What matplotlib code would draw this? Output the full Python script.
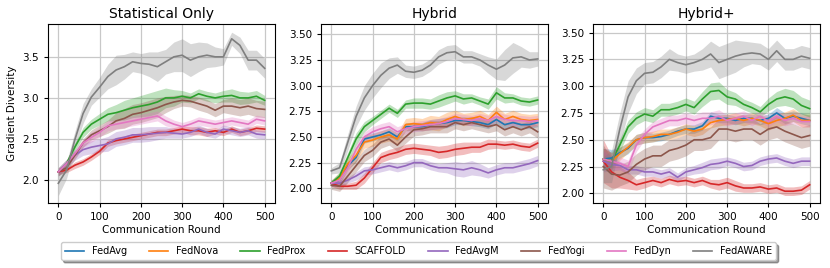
import numpy as np
import matplotlib
matplotlib.use("Agg")
import matplotlib.pyplot as plt

rounds = np.arange(0, 501, 20)

methods = ["FedAvg", "FedNova", "FedProx", "SCAFFOLD", "FedAvgM", "FedYogi", "FedDyn", "FedAWARE"]
colors  = ["tab:blue", "tab:orange", "tab:green", "tab:red", "tab:purple", "tab:brown", "tab:pink", "tab:gray"]
titles  = ["Statistical Only", "Hybrid", "Hybrid+"]

# ---- Statistical Only (FedAvg / FedNova not shown) ----
stat_fedprox   = [2.10, 2.20, 2.40, 2.58, 2.68, 2.74, 2.80, 2.82, 2.85, 2.88, 2.90, 2.92, 2.95, 3.00, 3.00, 3.02, 3.00, 3.05, 3.02, 3.00, 3.02, 3.03, 3.00, 3.00, 3.02, 2.97]
stat_scaffold  = [2.10, 2.12, 2.18, 2.22, 2.28, 2.35, 2.45, 2.48, 2.50, 2.52, 2.54, 2.56, 2.58, 2.58, 2.60, 2.62, 2.60, 2.60, 2.58, 2.60, 2.58, 2.62, 2.58, 2.60, 2.63, 2.62]
stat_fedavgm   = [2.10, 2.20, 2.30, 2.37, 2.40, 2.42, 2.44, 2.50, 2.52, 2.55, 2.55, 2.56, 2.57, 2.58, 2.57, 2.56, 2.58, 2.62, 2.58, 2.56, 2.62, 2.60, 2.58, 2.60, 2.56, 2.55]
stat_fedyogi   = [2.10, 2.15, 2.30, 2.45, 2.55, 2.60, 2.65, 2.72, 2.75, 2.80, 2.82, 2.85, 2.88, 2.92, 2.95, 2.97, 2.96, 2.93, 2.90, 2.85, 2.90, 2.90, 2.88, 2.90, 2.87, 2.86]
stat_feddyn    = [2.10, 2.20, 2.32, 2.45, 2.52, 2.58, 2.66, 2.68, 2.70, 2.72, 2.74, 2.76, 2.78, 2.72, 2.68, 2.65, 2.68, 2.72, 2.70, 2.68, 2.70, 2.72, 2.70, 2.68, 2.74, 2.72]
stat_fedaware  = [1.96, 2.12, 2.49, 2.81, 3.01, 3.13, 3.26, 3.34, 3.38, 3.44, 3.42, 3.41, 3.38, 3.44, 3.50, 3.52, 3.46, 3.50, 3.52, 3.50, 3.50, 3.72, 3.64, 3.46, 3.46, 3.36]

stat_fedprox_sd   = [0.05, 0.05, 0.05, 0.06, 0.06, 0.07, 0.08, 0.10, 0.12, 0.12, 0.13, 0.14, 0.14, 0.12, 0.10, 0.07, 0.06, 0.06, 0.06, 0.06, 0.07, 0.08, 0.08, 0.07, 0.07, 0.06]
stat_scaffold_sd  = [0.03, 0.03, 0.04, 0.04, 0.04, 0.04, 0.04, 0.04, 0.04, 0.04, 0.04, 0.04, 0.04, 0.04, 0.04, 0.04, 0.05, 0.05, 0.05, 0.04, 0.04, 0.04, 0.04, 0.04, 0.04, 0.04]
stat_fedavgm_sd   = [0.05, 0.05, 0.06, 0.07, 0.08, 0.08, 0.09, 0.09, 0.09, 0.09, 0.09, 0.09, 0.08, 0.07, 0.06, 0.05, 0.05, 0.05, 0.05, 0.05, 0.05, 0.05, 0.05, 0.05, 0.05, 0.05]
stat_fedyogi_sd   = [0.05, 0.05, 0.05, 0.05, 0.06, 0.07, 0.08, 0.10, 0.12, 0.12, 0.12, 0.12, 0.12, 0.10, 0.08, 0.07, 0.07, 0.08, 0.08, 0.08, 0.08, 0.10, 0.10, 0.10, 0.10, 0.10]
stat_feddyn_sd    = [0.05, 0.05, 0.05, 0.05, 0.06, 0.06, 0.06, 0.06, 0.06, 0.06, 0.06, 0.06, 0.06, 0.06, 0.05, 0.05, 0.05, 0.05, 0.05, 0.05, 0.05, 0.05, 0.05, 0.05, 0.05, 0.05]
stat_fedaware_sd  = [0.15, 0.10, 0.10, 0.12, 0.10, 0.12, 0.15, 0.18, 0.15, 0.12, 0.12, 0.15, 0.18, 0.15, 0.18, 0.20, 0.20, 0.18, 0.15, 0.12, 0.10, 0.08, 0.10, 0.12, 0.12, 0.12]

# ---- Hybrid ----
hyb_fedavg    = [2.05, 2.08, 2.22, 2.30, 2.48, 2.50, 2.52, 2.55, 2.50, 2.60, 2.60, 2.60, 2.62, 2.63, 2.64, 2.66, 2.66, 2.65, 2.64, 2.62, 2.67, 2.62, 2.64, 2.62, 2.62, 2.64]
hyb_fednova   = [2.05, 2.10, 2.24, 2.32, 2.45, 2.47, 2.50, 2.52, 2.48, 2.62, 2.63, 2.62, 2.64, 2.63, 2.67, 2.70, 2.67, 2.68, 2.70, 2.66, 2.74, 2.67, 2.70, 2.67, 2.66, 2.67]
hyb_fedprox   = [2.05, 2.12, 2.30, 2.48, 2.60, 2.66, 2.72, 2.78, 2.73, 2.82, 2.83, 2.83, 2.82, 2.85, 2.88, 2.90, 2.87, 2.88, 2.85, 2.82, 2.93, 2.88, 2.88, 2.85, 2.84, 2.86]
hyb_scaffold  = [2.05, 2.02, 2.02, 2.03, 2.10, 2.20, 2.30, 2.33, 2.35, 2.38, 2.39, 2.38, 2.37, 2.35, 2.36, 2.38, 2.39, 2.40, 2.40, 2.43, 2.43, 2.42, 2.43, 2.41, 2.40, 2.44]
hyb_fedavgm   = [2.05, 2.05, 2.08, 2.12, 2.17, 2.18, 2.20, 2.22, 2.20, 2.22, 2.25, 2.25, 2.22, 2.20, 2.20, 2.19, 2.18, 2.20, 2.18, 2.15, 2.18, 2.20, 2.20, 2.22, 2.24, 2.27]
hyb_fedyogi   = [2.03, 2.02, 2.12, 2.22, 2.32, 2.37, 2.45, 2.48, 2.42, 2.50, 2.57, 2.58, 2.60, 2.60, 2.60, 2.64, 2.62, 2.64, 2.62, 2.60, 2.62, 2.57, 2.60, 2.57, 2.60, 2.55]
hyb_feddyn    = [2.05, 2.08, 2.20, 2.38, 2.50, 2.55, 2.58, 2.60, 2.55, 2.58, 2.60, 2.61, 2.62, 2.63, 2.65, 2.68, 2.67, 2.66, 2.68, 2.66, 2.70, 2.67, 2.66, 2.66, 2.65, 2.66]
hyb_fedaware  = [2.17, 2.20, 2.45, 2.70, 2.88, 3.00, 3.10, 3.17, 3.20, 3.14, 3.13, 3.15, 3.20, 3.28, 3.32, 3.33, 3.28, 3.28, 3.25, 3.20, 3.16, 3.20, 3.27, 3.28, 3.25, 3.26]

hyb_fedavg_sd    = [0.03, 0.04, 0.04, 0.04, 0.04, 0.04, 0.04, 0.04, 0.04, 0.04, 0.04, 0.04, 0.05, 0.05, 0.05, 0.04, 0.04, 0.04, 0.04, 0.04, 0.04, 0.04, 0.04, 0.04, 0.04, 0.04]
hyb_fednova_sd   = [0.03, 0.05, 0.06, 0.06, 0.06, 0.06, 0.06, 0.06, 0.06, 0.06, 0.06, 0.06, 0.07, 0.07, 0.07, 0.06, 0.06, 0.06, 0.06, 0.06, 0.06, 0.06, 0.06, 0.06, 0.06, 0.06]
hyb_fedprox_sd   = [0.03, 0.04, 0.05, 0.06, 0.05, 0.04, 0.04, 0.04, 0.04, 0.04, 0.05, 0.05, 0.05, 0.06, 0.06, 0.05, 0.05, 0.04, 0.04, 0.05, 0.06, 0.05, 0.04, 0.04, 0.04, 0.04]
hyb_scaffold_sd  = [0.03, 0.03, 0.03, 0.04, 0.05, 0.05, 0.05, 0.05, 0.05, 0.05, 0.05, 0.05, 0.05, 0.06, 0.06, 0.06, 0.06, 0.05, 0.05, 0.05, 0.04, 0.04, 0.04, 0.04, 0.04, 0.04]
hyb_fedavgm_sd   = [0.03, 0.03, 0.03, 0.04, 0.04, 0.04, 0.04, 0.04, 0.04, 0.04, 0.04, 0.04, 0.04, 0.04, 0.05, 0.07, 0.07, 0.07, 0.06, 0.05, 0.05, 0.05, 0.05, 0.05, 0.05, 0.05]
hyb_fedyogi_sd   = [0.04, 0.05, 0.06, 0.06, 0.06, 0.06, 0.06, 0.06, 0.06, 0.06, 0.06, 0.06, 0.06, 0.06, 0.06, 0.06, 0.06, 0.06, 0.06, 0.06, 0.06, 0.06, 0.06, 0.06, 0.06, 0.06]
hyb_feddyn_sd    = [0.03, 0.05, 0.05, 0.05, 0.05, 0.05, 0.05, 0.05, 0.05, 0.05, 0.05, 0.05, 0.05, 0.05, 0.05, 0.05, 0.05, 0.05, 0.05, 0.05, 0.05, 0.05, 0.05, 0.05, 0.05, 0.05]
hyb_fedaware_sd  = [0.03, 0.05, 0.08, 0.10, 0.12, 0.12, 0.12, 0.10, 0.08, 0.06, 0.06, 0.06, 0.06, 0.07, 0.07, 0.07, 0.06, 0.06, 0.06, 0.08, 0.10, 0.15, 0.15, 0.10, 0.08, 0.07]

# ---- Hybrid+ ----
hp_fedavg    = [2.32, 2.33, 2.38, 2.42, 2.50, 2.52, 2.52, 2.53, 2.55, 2.58, 2.60, 2.60, 2.63, 2.72, 2.70, 2.70, 2.68, 2.70, 2.70, 2.68, 2.70, 2.75, 2.70, 2.72, 2.70, 2.68]
hp_fednova   = [2.32, 2.30, 2.37, 2.43, 2.50, 2.52, 2.53, 2.55, 2.55, 2.57, 2.60, 2.58, 2.60, 2.66, 2.68, 2.69, 2.70, 2.68, 2.70, 2.68, 2.65, 2.68, 2.70, 2.73, 2.68, 2.68]
hp_fedprox   = [2.32, 2.30, 2.45, 2.62, 2.70, 2.74, 2.72, 2.78, 2.78, 2.80, 2.83, 2.80, 2.88, 2.95, 2.96, 2.90, 2.88, 2.83, 2.80, 2.76, 2.83, 2.88, 2.90, 2.88, 2.82, 2.79]
hp_scaffold  = [2.30, 2.20, 2.15, 2.12, 2.08, 2.10, 2.12, 2.10, 2.13, 2.11, 2.12, 2.10, 2.12, 2.09, 2.08, 2.10, 2.07, 2.05, 2.05, 2.06, 2.04, 2.05, 2.02, 2.02, 2.03, 2.08]
hp_fedavgm   = [2.30, 2.27, 2.26, 2.22, 2.22, 2.20, 2.20, 2.18, 2.20, 2.15, 2.20, 2.22, 2.24, 2.27, 2.28, 2.30, 2.28, 2.25, 2.26, 2.30, 2.32, 2.33, 2.30, 2.28, 2.30, 2.30]
hp_fedyogi   = [2.25, 2.18, 2.17, 2.20, 2.27, 2.32, 2.35, 2.35, 2.40, 2.42, 2.45, 2.50, 2.50, 2.52, 2.60, 2.60, 2.58, 2.60, 2.60, 2.55, 2.60, 2.62, 2.58, 2.55, 2.52, 2.54]
hp_feddyn    = [2.32, 2.30, 2.28, 2.25, 2.45, 2.55, 2.62, 2.65, 2.68, 2.68, 2.70, 2.68, 2.70, 2.70, 2.72, 2.68, 2.70, 2.72, 2.68, 2.72, 2.67, 2.72, 2.68, 2.70, 2.67, 2.67]
hp_fedaware  = [2.22, 2.25, 2.60, 2.90, 3.05, 3.12, 3.13, 3.18, 3.25, 3.22, 3.20, 3.22, 3.25, 3.30, 3.22, 3.25, 3.28, 3.30, 3.31, 3.30, 3.25, 3.33, 3.25, 3.25, 3.28, 3.26]

hp_fedavg_sd    = [0.10, 0.08, 0.05, 0.05, 0.05, 0.05, 0.04, 0.04, 0.04, 0.04, 0.04, 0.04, 0.04, 0.04, 0.04, 0.04, 0.04, 0.04, 0.04, 0.04, 0.04, 0.05, 0.05, 0.05, 0.05, 0.05]
hp_fednova_sd   = [0.10, 0.08, 0.06, 0.05, 0.05, 0.05, 0.05, 0.05, 0.05, 0.05, 0.05, 0.05, 0.05, 0.05, 0.05, 0.05, 0.05, 0.05, 0.05, 0.05, 0.06, 0.06, 0.06, 0.06, 0.06, 0.06]
hp_fedprox_sd   = [0.10, 0.08, 0.06, 0.06, 0.06, 0.06, 0.06, 0.06, 0.06, 0.06, 0.06, 0.06, 0.07, 0.08, 0.08, 0.07, 0.06, 0.05, 0.05, 0.05, 0.06, 0.07, 0.08, 0.08, 0.08, 0.08]
hp_scaffold_sd  = [0.20, 0.15, 0.10, 0.08, 0.05, 0.05, 0.04, 0.04, 0.04, 0.04, 0.04, 0.04, 0.04, 0.04, 0.05, 0.05, 0.05, 0.04, 0.04, 0.04, 0.04, 0.04, 0.04, 0.04, 0.04, 0.04]
hp_fedavgm_sd   = [0.10, 0.06, 0.04, 0.04, 0.04, 0.04, 0.04, 0.04, 0.04, 0.04, 0.04, 0.04, 0.05, 0.05, 0.05, 0.04, 0.04, 0.04, 0.04, 0.04, 0.04, 0.04, 0.04, 0.04, 0.04, 0.04]
hp_fedyogi_sd   = [0.20, 0.15, 0.10, 0.10, 0.10, 0.10, 0.10, 0.10, 0.10, 0.10, 0.10, 0.10, 0.10, 0.10, 0.10, 0.10, 0.10, 0.10, 0.10, 0.10, 0.10, 0.10, 0.10, 0.10, 0.10, 0.10]
hp_feddyn_sd    = [0.10, 0.08, 0.06, 0.06, 0.06, 0.05, 0.05, 0.05, 0.05, 0.05, 0.05, 0.05, 0.06, 0.06, 0.06, 0.05, 0.05, 0.05, 0.05, 0.05, 0.05, 0.05, 0.05, 0.05, 0.05, 0.05]
hp_fedaware_sd  = [0.12, 0.15, 0.15, 0.15, 0.12, 0.10, 0.10, 0.10, 0.10, 0.08, 0.08, 0.08, 0.10, 0.12, 0.15, 0.15, 0.15, 0.12, 0.10, 0.10, 0.10, 0.10, 0.10, 0.10, 0.10, 0.10]

panels = [
    [None, None, stat_fedprox, stat_scaffold, stat_fedavgm, stat_fedyogi, stat_feddyn, stat_fedaware],
    [hyb_fedavg, hyb_fednova, hyb_fedprox, hyb_scaffold, hyb_fedavgm, hyb_fedyogi, hyb_feddyn, hyb_fedaware],
    [hp_fedavg, hp_fednova, hp_fedprox, hp_scaffold, hp_fedavgm, hp_fedyogi, hp_feddyn, hp_fedaware],
]
panels_sd = [
    [None, None, stat_fedprox_sd, stat_scaffold_sd, stat_fedavgm_sd, stat_fedyogi_sd, stat_feddyn_sd, stat_fedaware_sd],
    [hyb_fedavg_sd, hyb_fednova_sd, hyb_fedprox_sd, hyb_scaffold_sd, hyb_fedavgm_sd, hyb_fedyogi_sd, hyb_feddyn_sd, hyb_fedaware_sd],
    [hp_fedavg_sd, hp_fednova_sd, hp_fedprox_sd, hp_scaffold_sd, hp_fedavgm_sd, hp_fedyogi_sd, hp_feddyn_sd, hp_fedaware_sd],
]
ylims   = [(1.72, 3.90), (1.857, 3.60), (1.91, 3.58)]
yticks  = [[2.0, 2.5, 3.0, 3.5], [2.0, 2.25, 2.5, 2.75, 3.0, 3.25, 3.5], [2.0, 2.25, 2.5, 2.75, 3.0, 3.25, 3.5]]
lefts   = [48 / 830, 321 / 830, 593 / 830]

fig = plt.figure(figsize=(8.3, 2.68), dpi=100)
handles = []
for p in range(3):
    ax = fig.add_axes([lefts[p], 1 - 203 / 268, 227 / 830, 179 / 268])
    hs = []
    for m in range(8):
        mean = panels[p][m]
        if mean is None:
            continue
        mean = np.array(mean)
        sd = np.array(panels_sd[p][m])
        ax.fill_between(rounds, mean - sd, mean + sd, color=colors[m], alpha=0.3, linewidth=0)
        line, = ax.plot(rounds, mean, color=colors[m], lw=1.2, label=methods[m])
        hs.append(line)
    if p == 1:
        handles = hs
    ax.set_xlim(-25, 525)
    ax.set_ylim(*ylims[p])
    ax.set_xticks([0, 100, 200, 300, 400, 500])
    ax.set_yticks(yticks[p])
    if p == 0:
        ax.yaxis.set_major_formatter(matplotlib.ticker.FormatStrFormatter('%.1f'))
    else:
        ax.yaxis.set_major_formatter(matplotlib.ticker.FormatStrFormatter('%.2f'))
    ax.grid(True, color='#c8c8c8', lw=0.9)
    ax.set_axisbelow(True)
    ax.tick_params(labelsize=7.5, length=3)
    ax.set_title(titles[p], fontsize=10, pad=4)
    ax.set_xlabel("Communication Round", fontsize=7.5, labelpad=2)
    if p == 0:
        ax.set_ylabel("Gradient Diversity", fontsize=7.5)

fig.legend(handles, methods, loc='center', bbox_to_anchor=(0.504, 0.063), ncol=8,
           fontsize=7, shadow=True, fancybox=True, columnspacing=2.25)
fig.savefig("out.png", dpi=100)
